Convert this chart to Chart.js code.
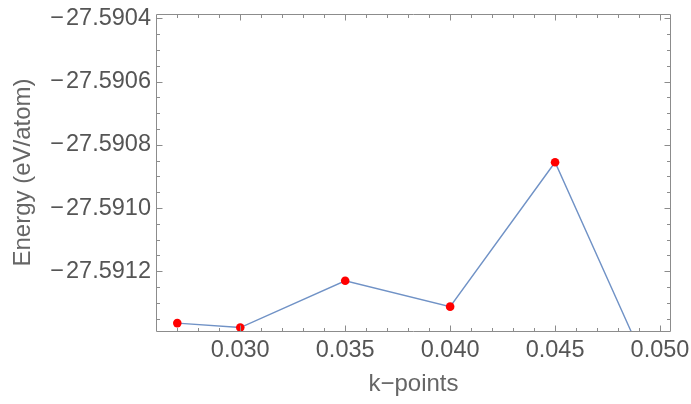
<!DOCTYPE html>
<html>
<head>
<meta charset="utf-8">
<script src="https://cdn.jsdelivr.net/npm/chart.js"></script>
<style>
  html, body { margin: 0; padding: 0; background: #fff; }
</style>
</head>
<body>
<canvas id="kChart" width="691" height="404"></canvas>

<script>
    // values
    const kPoints = [0.027, 0.030, 0.035, 0.040, 0.045, 0.050];
    const energy = [-27.591364, -27.591378, -27.591230, -27.591312, -27.590855, -27.591594];

    const xTicks = [0.030, 0.035, 0.040, 0.045, 0.050];
    const yTicks = [-27.5912, -27.5910, -27.5908, -27.5906, -27.5904];
    const xRange = [0.026033, 0.050476];
    const yRange = [-27.591389, -27.590386];

    const fontFamily = '"Liberation Sans", Arial, sans-serif';

    // mathematica style frame with inward ticks on all four sides
    const framePlugin = {
        id: 'frame',
        afterDatasetsDraw(chart) {
            const {ctx, chartArea: a, scales: {x, y}} = chart;
            const L = Math.round(a.left) - 0.5, R = Math.round(a.right) + 0.5;
            const T = Math.round(a.top) + 0.5, B = Math.round(a.bottom) + 0.5;
            ctx.save();
            ctx.strokeStyle = '#8c8c8c';
            ctx.lineWidth = 1;
            ctx.beginPath();
            ctx.rect(L, T, R - L, B - T);

            for (let k = 26; k <= 51; k++) { // minor every 0.001
                const px = Math.round(x.getPixelForValue(k / 1000)) + 0.5;
                if (px <= L + 1 || px >= R - 1) continue;
                const len = k % 5 === 0 ? 6 : 3.5;
                ctx.moveTo(px, B); ctx.lineTo(px, B - len);
                ctx.moveTo(px, T); ctx.lineTo(px, T + len);
            }
            for (let k = 0; k <= 24; k++) { // minor every 0.00005
                const v = -27.5914 + k * 0.00005;
                const py = Math.round(y.getPixelForValue(v)) + 0.5;
                if (py <= T + 1 || py >= B - 1) continue;
                const len = k % 4 === 0 ? 6 : 3.5;
                ctx.moveTo(L, py); ctx.lineTo(L + len, py);
                ctx.moveTo(R, py); ctx.lineTo(R - len, py);
            }
            ctx.stroke();
            ctx.restore();
        }
    };

    new Chart(document.getElementById('kChart'), {
        type: 'scatter',
        data: {
            datasets: [{
                data: kPoints.map((k, i) => ({x: k, y: energy[i]})),
                showLine: true,
                borderColor: '#7092c6',
                borderWidth: 1.4,
                pointRadius: 4.3,
                pointHoverRadius: 4.3,
                pointBorderWidth: 0,
                pointBackgroundColor: '#ff0000'
            }]
        },
        options: {
            responsive: false,
            animation: false,
            devicePixelRatio: 1,
            layout: {padding: {top: 14, right: 21, left: 0, bottom: 0}},
            plugins: {
                legend: {display: false},
                tooltip: {enabled: false}
            },
            scales: {
                x: {
                    type: 'linear',
                    min: xRange[0],
                    max: xRange[1],
                    afterBuildTicks: s => { s.ticks = xTicks.map(v => ({value: v})); },
                    afterFit: s => { s.height = 73; s.paddingLeft = 0; s.paddingRight = 0; },
                    grid: {display: false, drawTicks: false},
                    border: {display: false},
                    ticks: {
                        autoSkip: false,
                        maxRotation: 0,
                        padding: 5,
                        color: '#555',
                        font: {family: fontFamily, size: 23.5},
                        callback: v => v.toFixed(3)
                    },
                    title: {
                        display: true,
                        text: 'k\u2212points',
                        color: '#666',
                        font: {family: fontFamily, size: 24},
                        padding: {top: 0, bottom: 5}
                    }
                },
                y: {
                    type: 'linear',
                    min: yRange[0],
                    max: yRange[1],
                    afterBuildTicks: s => { s.ticks = yTicks.map(v => ({value: v})); },
                    afterFit: s => { s.width = 157; s.paddingTop = 0; s.paddingBottom = 0; },
                    grid: {display: false, drawTicks: false},
                    border: {display: false},
                    ticks: {
                        autoSkip: false,
                        padding: 6,
                        color: '#555',
                        font: {family: fontFamily, size: 23.5},
                        callback: v => v.toFixed(4).replace('-', '\u2212\u200a')
                    },
                    title: {
                        display: true,
                        text: 'Energy (eV/atom)',
                        color: '#666',
                        font: {family: fontFamily, size: 24},
                        padding: {top: 9, bottom: 0}
                    }
                }
            }
        },
        plugins: [framePlugin]
    });
</script>
</body>
</html>
